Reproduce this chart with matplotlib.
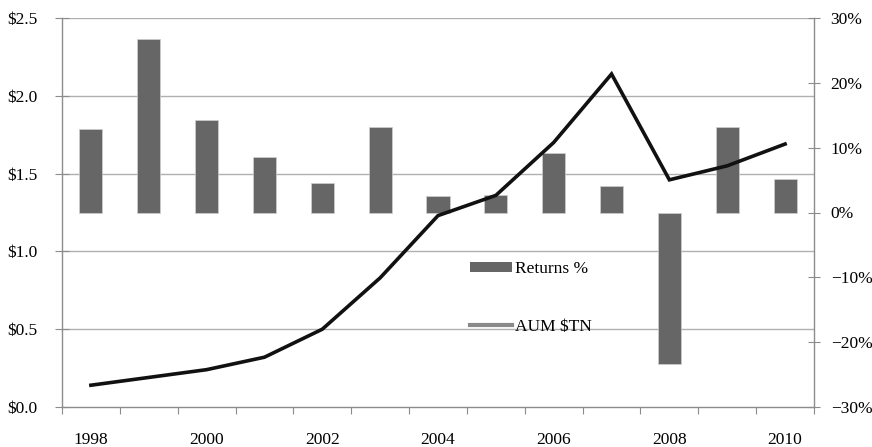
import matplotlib
matplotlib.use("Agg")
import matplotlib.pyplot as plt
from matplotlib.patches import Patch
from matplotlib.lines import Line2D
import numpy as np

plt.rcParams['font.family'] = ['Liberation Serif', 'DejaVu Serif']

years = [1998, 1999, 2000, 2001, 2002, 2003, 2004, 2005, 2006, 2007, 2008, 2009, 2010]
returns_pct = [12.9, 26.7, 14.2, 8.6, 4.6, 13.2, 2.5, 2.7, 9.2, 4.1, -23.3, 13.2, 5.1]
aum_tn = [0.14, 0.19, 0.24, 0.32, 0.50, 0.83, 1.23, 1.36, 1.70, 2.14, 1.46, 1.55, 1.69]

left_ticks = [0.0, 0.5, 1.0, 1.5, 2.0, 2.5]
left_labels = ['\\$0.0', '\\$0.5', '\\$1.0', '\\$1.5', '\\$2.0', '\\$2.5']
right_ticks = [-30, -20, -10, 0, 10, 20, 30]
right_labels = ['\u221230%', '\u221220%', '\u221210%', '0%', '10%', '20%', '30%']

bar_color = '#666666'
line_color = '#111111'
axis_color = '#8c8c8c'
grid_color = '#b0b0b0'
fs = 12.5

fig = plt.figure(figsize=(8.72, 4.47), dpi=100)
ax = fig.add_axes([62 / 872, 40 / 447, 752 / 872, 389 / 447])
ax2 = ax.twinx()

x = np.arange(len(years))
ax.set_xlim(-0.5, len(years) - 0.5)
ax.set_ylim(0, 2.5)
ax2.set_ylim(-30, 30)

# gridlines for the AUM scale, behind the bars
for v in left_ticks[1:]:
    ax.axhline(v, color=grid_color, lw=1.0, zorder=0)

# return bars on the right-hand scale
ax2.bar(x, returns_pct, width=0.4, color=bar_color, edgecolor='#cfcfcf',
        linewidth=0.5, zorder=2)

# AUM line drawn above the bars, using the left-hand scale
ax2.plot(x, aum_tn, color=line_color, lw=2.6, solid_joinstyle='miter',
         transform=ax.transData, zorder=3)

# ticks and labels
ax.set_yticks(left_ticks)
ax.set_yticklabels(left_labels, fontsize=fs)
ax2.set_yticks(right_ticks)
ax2.set_yticklabels(right_labels, fontsize=fs)

ax.set_xticks(np.arange(-0.5, len(years)), minor=False)
ax.set_xticklabels([])
ax.set_xticks(x[::2], minor=True)
ax.set_xticklabels([str(y) for y in years[::2]], minor=True, fontsize=fs)
ax.tick_params(axis='x', which='major', length=5, color=axis_color, direction='out')
ax.tick_params(axis='x', which='minor', length=0, pad=18)
ax.tick_params(axis='y', length=10, color=axis_color, direction='inout', pad=13)
ax2.tick_params(axis='y', length=8, color=axis_color, direction='inout', pad=8)

for a in (ax, ax2):
    a.spines['top'].set_visible(False)
    for s in ('left', 'right', 'bottom'):
        a.spines[s].set_color(axis_color)
        a.spines[s].set_linewidth(1.0)
ax2.spines['left'].set_visible(False)
ax2.spines['bottom'].set_visible(False)
ax.spines['right'].set_visible(False)

handles = [Patch(facecolor=bar_color, edgecolor='none'),
           Line2D([0], [0], color='#8a8a8a', lw=3)]
fig.legend(handles, ['Returns %', 'AUM \\$TN'], loc='upper left',
           bbox_to_anchor=(470 / 872, 1 - 261 / 447), frameon=False,
           fontsize=fs, handlelength=2.4, handleheight=0.5,
           handletextpad=0.2, labelspacing=2.4, borderpad=0, borderaxespad=0)

fig.savefig('out.png', dpi=100)
